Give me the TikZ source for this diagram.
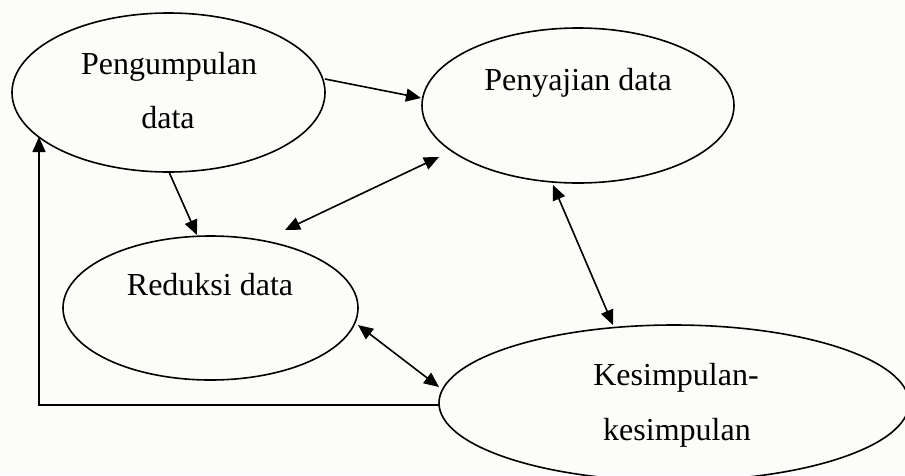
\documentclass[tikz,border=0pt]{standalone}
\usepackage{fontspec}
\setmainfont{Liberation Serif}
\usetikzlibrary{shapes.geometric,arrows.meta}
\definecolor{bgc}{RGB}{252,253,249}
\tikzset{
  oval/.style={draw=black,line width=1.6pt,ellipse,inner sep=0pt},
  lbl/.style={anchor=base,inner sep=0pt,font=\fontsize{32}{38}\selectfont},
  conn/.style={line width=1.6pt,-{Triangle[length=15pt,width=13pt]}},
  dconn/.style={line width=1.6pt,{Triangle[length=15pt,width=13pt]}-{Triangle[length=15pt,width=13pt]}}
}
\begin{document}
\begin{tikzpicture}[x=1pt,y=-1pt]
\fill[bgc] (0,0) rectangle (905,475);
\useasboundingbox (0,0) rectangle (905,475);
\begin{scope}
\clip (0,0) rectangle (905,475);
\node[oval,minimum width=313pt,minimum height=159pt] (e1) at (168.5,92.5) {};
\node[oval,minimum width=312pt,minimum height=155pt] (e2) at (578,105.5) {};
\node[oval,minimum width=295pt,minimum height=144pt] (e3) at (210.5,308) {};
\node[oval,minimum width=470pt,minimum height=156pt] (e4) at (674,403) {};
\end{scope}
\node[lbl] (t1a) at (169,74) {Pengumpulan};
\node[lbl] (t1b) at (168,128) {data};
\node[lbl] (t2) at (578,90) {Penyajian data};
\node[lbl] (t3) at (210,295) {Reduksi data};
\node[lbl] (t4a) at (676,385) {Kesimpulan-};
\node[lbl] (t4b) at (677,440) {kesimpulan};
% connectors
\draw[conn] ([shift={(156.5,-13.5)}]e1.center) -- ([shift={(-157,-7.5)}]e2.center);
\draw[conn] ([shift={(0.5,79.5)}]e1.center) -- ([shift={(-13.5,-73)}]e3.center);
\draw[dconn] ([shift={(74.5,-78)}]e3.center) -- ([shift={(-139,51.5)}]e2.center);
\draw[dconn] ([shift={(-25,79.5)}]e2.center) -- ([shift={(-61,-78)}]e4.center);
\draw[dconn] ([shift={(147.5,17)}]e3.center) -- ([shift={(-235,-16)}]e4.center);
\draw[conn] ([shift={(-235,2)}]e4.center) -| ([shift={(-129.5,44.5)}]e1.center);
\end{tikzpicture}
\end{document}
